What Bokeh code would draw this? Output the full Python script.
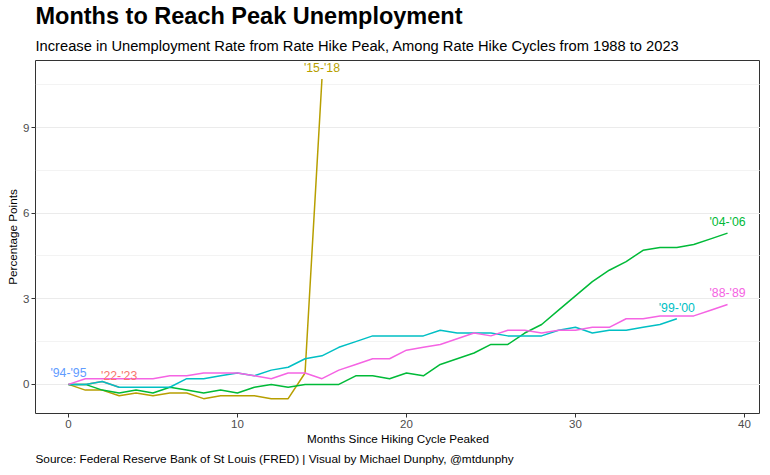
from bokeh.plotting import figure
from bokeh.models import Range1d, FixedTicker, Title, ColumnDataSource
from bokeh.embed import file_html
from bokeh.resources import INLINE
from bokeh.core.properties import value

# ---- data ----
cycle_names = ["'22-'23", "'15-'18", "'04-'06", "'99-'00", "'94-'95", "'88-'89"]
s_22_23 = [0, 0, 0.1, -0.1]
s_15_18 = [0, -0.2, -0.2, -0.4, -0.3, -0.4, -0.3, -0.3, -0.5, -0.4, -0.4, -0.4,
           -0.5, -0.5, 0.4, 10.7]
s_04_06 = [0, 0, -0.2, -0.3, -0.2, -0.3, -0.1, -0.2, -0.3, -0.2, -0.3, -0.1, 0,
           -0.1, 0, 0, 0, 0.3, 0.3, 0.2, 0.4, 0.3, 0.7, 0.9, 1.1, 1.4, 1.4, 1.8,
           2.1, 2.6, 3.1, 3.6, 4.0, 4.3, 4.7, 4.8, 4.8, 4.9, 5.1, 5.3]
s_99_00 = [0, 0, 0.1, -0.1, -0.1, -0.1, -0.1, 0.2, 0.2, 0.3, 0.4, 0.3, 0.5, 0.6,
           0.9, 1.0, 1.3, 1.5, 1.7, 1.7, 1.7, 1.7, 1.9, 1.8, 1.8, 1.8, 1.7, 1.7,
           1.7, 1.9, 2.0, 1.8, 1.9, 1.9, 2.0, 2.1, 2.3]
s_94_95 = [0]
s_88_89 = [0, 0.2, 0.2, 0.2, 0.2, 0.2, 0.3, 0.3, 0.4, 0.4, 0.4, 0.3, 0.2, 0.4,
           0.4, 0.2, 0.5, 0.7, 0.9, 0.9, 1.2, 1.3, 1.4, 1.6, 1.8, 1.7, 1.9, 1.9,
           1.8, 1.9, 1.9, 2.0, 2.0, 2.3, 2.3, 2.4, 2.4, 2.4, 2.6, 2.8]
series = [s_22_23, s_15_18, s_04_06, s_99_00, s_94_95, s_88_89]

x_ticks = [0, 10, 20, 30, 40]
y_ticks = [0, 3, 6, 9]
y_minor = [1.5, 4.5, 7.5, 10.5]

title_text = "Months to Reach Peak Unemployment"
subtitle_text = "Increase in Unemployment Rate from Rate Hike Peak, Among Rate Hike Cycles from 1988 to 2023"
caption_text = "Source: Federal Reserve Bank of St Louis (FRED) | Visual by Michael Dunphy, @mtdunphy"

palette = ["#F8766D", "#B79F00", "#00BA38", "#00BFC4", "#619CFF", "#F564E3"]

FONT = "Liberation Sans"

p = figure(frame_width=725, frame_height=353, output_backend="svg",
           toolbar_location=None,
           x_range=Range1d(-1.95, 40.95), y_range=Range1d(-1.02, 11.35),
           min_border_left=35, min_border_right=0, min_border_top=60,
           min_border_bottom=10, background_fill_color="white",
           border_fill_color="white")

for name, vals, col in zip(cycle_names, series, palette):
    months = list(range(len(vals)))
    if len(vals) > 1:
        p.line(months, vals, line_color=col, line_width=1.5)

end_x = [len(v) - 1 for v in series]
end_y = [v[-1] for v in series]
lab_src = ColumnDataSource(dict(x=end_x, y=end_y, text=cycle_names, color=palette))
p.text(x="x", y="y", text="text", source=lab_src, text_color="color",
       text_align="center", text_baseline="middle", y_offset=-11,
       text_font=value(FONT), text_font_size="12.3px")

# axes
p.xaxis.ticker = FixedTicker(ticks=x_ticks)
p.yaxis.ticker = FixedTicker(ticks=y_ticks, minor_ticks=y_minor)
for ax in (p.xaxis[0], p.yaxis[0]):
    ax.axis_line_color = None
    ax.major_tick_in = 0
    ax.major_tick_out = 4
    ax.major_tick_line_color = "#333333"
    ax.minor_tick_line_color = None
    ax.major_label_text_font = FONT
    ax.major_label_text_font_size = "11.5px"
    ax.major_label_text_color = "#4D4D4D"
    ax.axis_label_text_font = FONT
    ax.axis_label_text_font_size = "11.7px"
    ax.axis_label_text_font_style = "normal"
    ax.axis_label_text_color = "black"
    ax.major_label_standoff = 2
    ax.axis_label_standoff = 1
p.xaxis.axis_label = "Months Since Hiking Cycle Peaked"
p.yaxis.axis_label = "Percentage Points"

p.xgrid.visible = False
p.ygrid.grid_line_color = "#EBEBEB"
p.ygrid.grid_line_width = 1
p.ygrid.minor_grid_line_color = "#EBEBEB"
p.ygrid.minor_grid_line_width = 0.6

p.outline_line_color = "#333333"
p.outline_line_width = 1
p.outline_line_alpha = 1

sub = Title(text=subtitle_text, align="left", text_font=FONT,
            text_font_size="14.7px", text_font_style="normal",
            text_color="black", standoff=14)
p.add_layout(sub, "above")
main = Title(text=title_text, align="left", text_font=FONT,
             text_font_size="23.5px", text_font_style="bold",
             text_color="black", standoff=0)
p.add_layout(main, "above")
cap = Title(text=caption_text, align="left", text_font=FONT,
            text_font_size="11.8px", text_font_style="normal",
            text_color="black", standoff=5)
p.add_layout(cap, "below")

open("out.html", "w").write(file_html(p, INLINE))
